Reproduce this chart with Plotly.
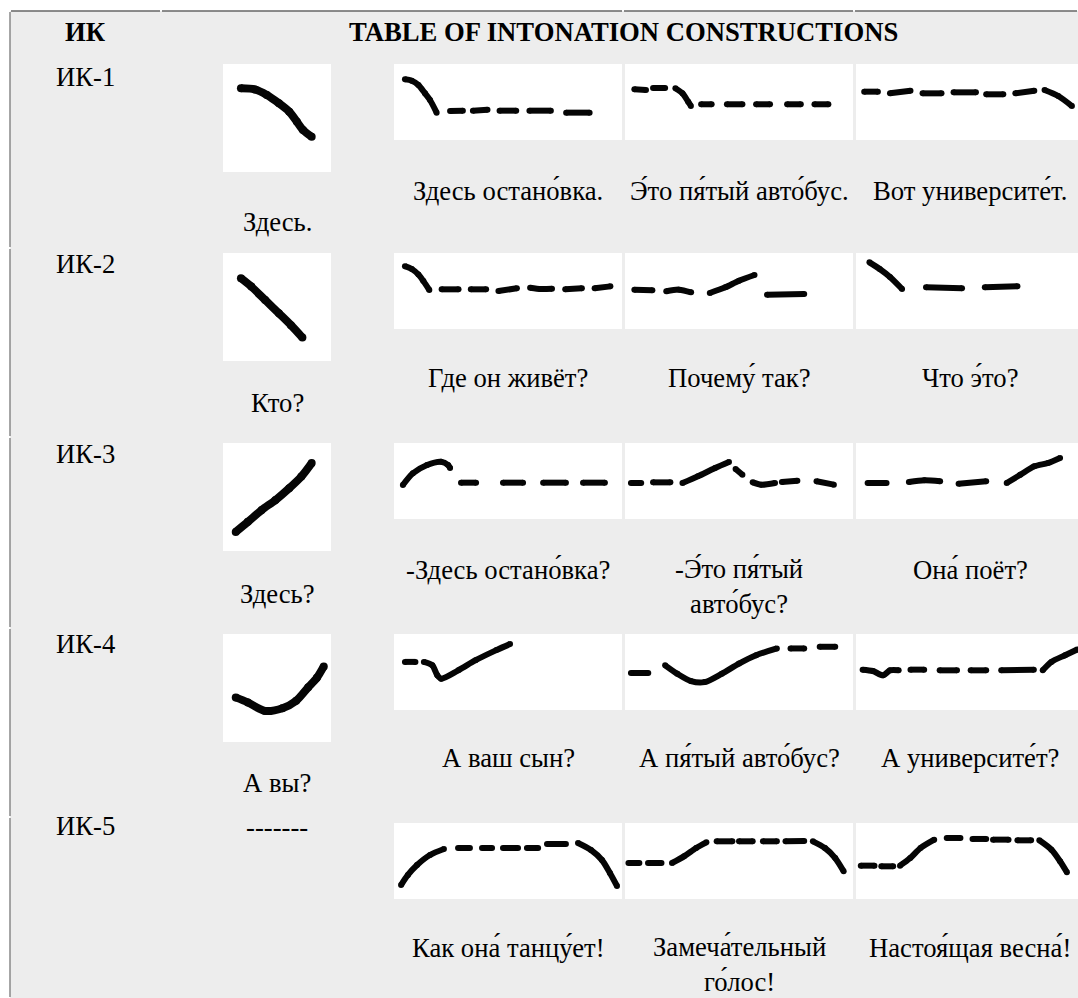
import plotly.graph_objects as go

# ---------------- data ----------------
HEADER_LEFT = "ИК"
HEADER_RIGHT = "TABLE OF INTONATION CONSTRUCTIONS"
ROW_LABELS = ["ИК-1", "ИК-2", "ИК-3", "ИК-4", "ИК-5"]
KEY_WORDS = ["Здесь.", "Кто?", "Здесь?", "А вы?", "-------"]
A = "\u0301"  # combining acute (stress mark)
EXAMPLE_PHRASES = [
    ["Здесь остано" + A + "вка.", "Э" + A + "то пя" + A + "тый авто" + A + "бус.", "Вот университе" + A + "т."],
    ["Где он живёт?", "Почему" + A + " так?", "Что э" + A + "то?"],
    ["-Здесь остано" + A + "вка?", "-Э" + A + "то пя" + A + "тый<br>авто" + A + "бус?", "Она" + A + " поёт?"],
    ["А ваш сын?", "А пя" + A + "тый авто" + A + "бус?", "А университе" + A + "т?"],
    ["Как она" + A + " танцу" + A + "ет!", "Замеча" + A + "тельный<br>го" + A + "лос!", "Настоя" + A + "щая весна" + A + "!"],
]

# Contours: strokes of (time %, pitch %) inside each picture
IK1_KEY = [[(16.6, 77.5), (29.4, 76.5), (40.6, 71.3), (51.8, 63.6), (61.3, 55.9), (68.4, 46.6), (74.1, 38.9), (82.1, 32.7)]]
IK2_KEY = [[(16.6, 76.7), (26.2, 68.9), (39.0, 56.5), (51.8, 44.1), (62.9, 33.2), (73.5, 21.7)]]
IK3_KEY = [[(11.8, 17.7), (23.0, 27.0), (35.8, 37.9), (48.6, 47.2), (61.3, 58.1), (72.5, 68.9), (82.1, 81.4)]]
IK4_KEY = [[(11.8, 41.3), (23.0, 36.6), (39.0, 28.8), (55.0, 31.3), (67.7, 38.1), (78.9, 50.6), (86.9, 59.4), (93.3, 70.0)]]
IK5_KEY = []

IK1_EXAMPLES = [
    [[(4.8, 79.8), (7.8, 78.0), (10.7, 72.4), (13.6, 61.4), (15.8, 52.6), (18.7, 36.0)],
     [(24.6, 38.2), (30.2, 38.6)], [(34.6, 38.6), (41.0, 39.9)], [(46.3, 38.6), (53.6, 38.6)],
     [(59.4, 38.6), (68.8, 38.6)], [(75.5, 36.0), (85.8, 36.0)]],
    [[(4.1, 66.7), (9.2, 65.8)], [(12.3, 68.4), (17.6, 68.4)],
     [(22.1, 68.0), (25.2, 61.4), (27.7, 50.4), (28.9, 44.7)],
     [(33.4, 47.0), (38.0, 47.0)], [(44.7, 47.0), (51.5, 47.0)], [(57.5, 47.0), (63.6, 47.0)],
     [(71.1, 47.0), (77.1, 47.0)], [(83.1, 47.0), (89.2, 47.0)]],
    [[(3.6, 63.6), (9.6, 63.6)], [(14.9, 61.4), (23.9, 64.9)], [(29.2, 61.4), (37.5, 61.4)],
     [(42.8, 62.7), (52.6, 62.7)], [(57.1, 60.1), (64.6, 60.1)], [(69.9, 61.4), (78.2, 64.9)],
     [(82.7, 65.8), (88.7, 57.9), (94.7, 44.7)]],
]
IK2_EXAMPLES = [
    [[(4.8, 82.6), (7.8, 79.0), (10.7, 71.7), (12.9, 63.0), (15.5, 51.3)],
     [(20.9, 52.2), (28.3, 52.2)], [(33.7, 52.2), (40.4, 52.2)], [(45.8, 50.0), (53.9, 53.5)],
     [(59.7, 54.3), (64.5, 52.6), (69.3, 53.0)], [(75.1, 52.2), (82.4, 53.5)], [(88.0, 53.5), (94.9, 56.1)]],
    [[(4.1, 51.8), (12.0, 50.9)], [(18.1, 49.6), (23.7, 51.8), (29.0, 48.2)],
     [(37.2, 47.4), (44.0, 54.8), (50.0, 63.6), (56.8, 71.1)], [(62.3, 45.2), (78.6, 46.1)]],
    [[(5.9, 87.7), (10.4, 78.9), (14.9, 68.4), (20.2, 52.6)],
     [(30.7, 54.8), (46.5, 53.5)], [(56.5, 54.8), (70.8, 56.1)]],
]
IK3_EXAMPLES = [
    [[(3.9, 44.7), (8.3, 60.1), (14.5, 71.1), (20.6, 75.4), (23.7, 71.1), (24.6, 67.0)],
     [(29.4, 47.8), (36.0, 47.8)], [(47.8, 47.8), (56.6, 47.8)], [(65.4, 47.8), (75.4, 47.8)],
     [(82.9, 47.8), (92.5, 47.8)]],
    [[(2.6, 47.4), (7.1, 47.4)], [(12.3, 48.2), (19.9, 48.2)],
     [(25.2, 47.4), (31.9, 56.1), (39.5, 67.1), (45.6, 75.0)], [(48.5, 65.8), (51.5, 58.3)],
     [(56.0, 48.2), (59.8, 45.2), (65.8, 47.4)], [(68.8, 48.7), (75.6, 50.4)], [(84.0, 49.6), (91.6, 45.2)]],
    [[(5.1, 47.4), (13.4, 47.4)], [(23.2, 48.7), (30.0, 50.9), (36.9, 49.6)], [(45.0, 46.5), (57.1, 49.6)],
     [(66.1, 47.4), (72.1, 58.3), (78.2, 69.3), (84.2, 73.7), (89.5, 80.3)]],
]
IK4_EXAMPLES = [
    [[(4.8, 63.3), (9.4, 63.3)],
     [(13.1, 63.3), (16.8, 58.8), (19.0, 45.6), (20.7, 41.2), (28.2, 52.2), (35.8, 65.5), (44.9, 78.8), (50.9, 86.7)]],
    [[(2.6, 48.7), (10.2, 48.7)],
     [(17.6, 58.8), (22.9, 47.8), (28.9, 38.1), (34.9, 36.7), (42.5, 47.8), (50.0, 61.1), (57.5, 72.1), (66.6, 81.0)],
     [(72.6, 81.0), (78.6, 81.0)], [(85.4, 83.2), (92.2, 83.2)]],
    [[(2.9, 53.1), (7.4, 51.3), (11.9, 45.6), (14.9, 52.2), (18.7, 52.2)],
     [(23.9, 53.1), (29.9, 53.1)], [(36.7, 52.2), (44.3, 52.2)], [(50.3, 52.2), (57.1, 52.2)],
     [(63.7, 52.2), (78.0, 53.1)], [(81.9, 52.2), (85.7, 63.3), (91.7, 72.1), (97.0, 79.6)]],
]
IK5_EXAMPLES = [
    [[(3.1, 18.4), (6.1, 31.6), (10.1, 44.7), (15.8, 57.9), (21.9, 65.8)],
     [(28.1, 67.1), (33.3, 67.1)], [(38.6, 67.1), (43.0, 67.1)], [(47.8, 67.1), (54.4, 67.1)],
     [(58.3, 67.1), (63.2, 67.1)], [(67.1, 72.4), (75.4, 72.4)],
     [(80.7, 73.7), (86.4, 64.5), (91.2, 51.3), (94.7, 34.2), (97.8, 17.1)]],
    [[(1.5, 47.4), (6.3, 47.4)], [(10.1, 47.4), (16.0, 47.4)],
     [(20.6, 47.4), (25.9, 56.1), (31.2, 67.1), (35.7, 74.6)],
     [(40.2, 75.9), (47.1, 75.9)], [(50.0, 75.9), (56.0, 75.9)], [(60.5, 75.9), (66.6, 75.9)],
     [(70.4, 75.9), (78.6, 76.3)], [(82.4, 75.9), (87.7, 67.1), (92.2, 53.9), (95.9, 36.4)]],
    [[(2.1, 43.9), (8.1, 43.9)], [(11.1, 43.0), (16.3, 43.0)],
     [(19.3, 43.9), (23.8, 53.9), (28.3, 67.1), (34.3, 78.1)],
     [(39.8, 80.3), (45.8, 80.3)], [(51.1, 79.0), (57.1, 79.0)], [(60.1, 78.1), (66.9, 78.1)],
     [(70.8, 77.2), (76.8, 77.2)], [(80.4, 77.2), (85.7, 64.9), (89.5, 49.6), (92.5, 35.1)]],
]
KEY_CONTOURS = [IK1_KEY, IK2_KEY, IK3_KEY, IK4_KEY, IK5_KEY]
EXAMPLE_CONTOURS = [IK1_EXAMPLES, IK2_EXAMPLES, IK3_EXAMPLES, IK4_EXAMPLES, IK5_EXAMPLES]

# ---------------- layout ----------------
W, H = 1078, 998
TABLE_X0, TABLE_Y0 = 10, 11
BG = "#EDEDED"
FONT = "Liberation Serif"
FS = 26.67

LABEL_X = 85.5
KEY_X0, KEY_SIZE = 223, 108
KEY_CX = KEY_X0 + KEY_SIZE / 2
EX_X0 = [394, 625, 856]
EX_W, EX_H = 228, 76

ROW_IMG_TOP = [64, 253, 443, 634, 823]
ROW_LABEL_Y = [76.5, 264, 454, 644, 826]
KEY_TEXT_Y = [222, 403, 594, 783, 827]
EX_TEXT_Y = [191, 378, 570, 758, 948]
ROW_BREAKS = [248, 437, 628, 817]
COL_BREAKS = [161, 623, 854]

fig = go.Figure()
shapes = []
annotations = []

shapes.append(dict(type="rect", x0=TABLE_X0, x1=W, y0=TABLE_Y0, y1=H,
                   fillcolor=BG, line=dict(width=0), layer="below"))
# top border segments
xs = [TABLE_X0] + COL_BREAKS + [W]
for a, b in zip(xs[:-1], xs[1:]):
    shapes.append(dict(type="line", x0=a + 1, x1=b - 1, y0=TABLE_Y0, y1=TABLE_Y0,
                       line=dict(color="#666666", width=1.5), layer="below"))
# left border segments
ys = [TABLE_Y0] + ROW_BREAKS + [H]
for a, b in zip(ys[:-1], ys[1:]):
    shapes.append(dict(type="line", x0=TABLE_X0, x1=TABLE_X0, y0=a + 1, y1=b - 1,
                       line=dict(color="#888888", width=1.5), layer="below"))


def add_contour(strokes, x0, y0, w, h, width):
    px, py = [], []
    for stroke in strokes:
        for t, p in stroke:
            px.append(x0 + t / 100 * w)
            py.append(y0 + (100 - p) / 100 * h)
        px.append(None)
        py.append(None)
    if not px:
        return
    fig.add_trace(go.Scatter(
        x=px, y=py, mode="lines+markers",
        line=dict(color="#050505", width=width, shape="spline", smoothing=0.8),
        marker=dict(color="#050505", size=width, line=dict(width=0)),
        hoverinfo="skip", showlegend=False, connectgaps=False))


def text(x, y, s, bold=False, yanchor="middle"):
    annotations.append(dict(
        x=x, y=y, xref="x", yref="y", text=("<b>%s</b>" % s) if bold else s,
        showarrow=False, xanchor="center", yanchor=yanchor, align="center",
        font=dict(family=FONT, size=FS, color="#000000")))


text(LABEL_X, 32, HEADER_LEFT, bold=True)
text((161 + 1085) / 2, 32, HEADER_RIGHT, bold=True)

for r in range(5):
    top = ROW_IMG_TOP[r]
    text(LABEL_X, ROW_LABEL_Y[r], ROW_LABELS[r])
    text(KEY_CX, KEY_TEXT_Y[r], KEY_WORDS[r])
    if KEY_CONTOURS[r]:
        shapes.append(dict(type="rect", x0=KEY_X0, x1=KEY_X0 + KEY_SIZE, y0=top, y1=top + KEY_SIZE,
                           fillcolor="white", line=dict(width=0), layer="below"))
        add_contour(KEY_CONTOURS[r], KEY_X0, top, KEY_SIZE, KEY_SIZE, 8)
    for c in range(3):
        shapes.append(dict(type="rect", x0=EX_X0[c], x1=EX_X0[c] + EX_W, y0=top, y1=top + EX_H,
                           fillcolor="white", line=dict(width=0), layer="below"))
        add_contour(EXAMPLE_CONTOURS[r][c], EX_X0[c], top, EX_W, EX_H, 6)
        phrase = EXAMPLE_PHRASES[r][c]
        cy = EX_TEXT_Y[r]
        if "<br>" in phrase:
            cy += 16.5
        text(EX_X0[c] + EX_W / 2, cy, phrase)

fig.update_layout(
    width=W, height=H, margin=dict(l=0, r=0, t=0, b=0),
    paper_bgcolor="white", plot_bgcolor="white",
    xaxis=dict(range=[0, W], visible=False, fixedrange=True),
    yaxis=dict(range=[H, 0], visible=False, fixedrange=True),
    shapes=shapes, annotations=annotations, showlegend=False,
)
fig.write_html("out.html", config={"displayModeBar": False},
               post_script="document.body.style.margin='0px';")
